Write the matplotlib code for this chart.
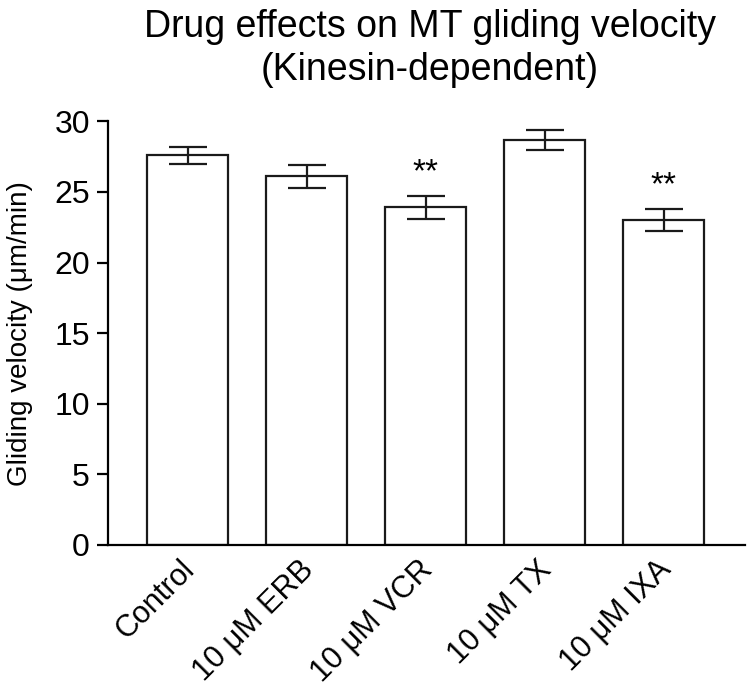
import matplotlib
matplotlib.use('Agg')
import matplotlib.pyplot as plt
from matplotlib.transforms import ScaledTranslation
import numpy as np

categories = ['Control', '10 \u03bcM ERB', '10 \u03bcM VCR', '10 \u03bcM TX', '10 \u03bcM IXA']
velocity = [27.6, 26.1, 23.9, 28.7, 23.0]
sem = [0.6, 0.8, 0.8, 0.7, 0.8]
stars = ['', '', '**', '', '**']

plt.rcParams['font.family'] = ['Liberation Sans', 'DejaVu Sans']

fig = plt.figure(figsize=(7.5, 6.93), dpi=100)
ax = fig.add_axes([0.144, 0.2136, 0.849, 0.6114])

x = np.arange(len(categories))
ax.bar(x, velocity, width=0.68, color='white', edgecolor='#1a1a1a', linewidth=1.6, zorder=2)
ax.errorbar(x, velocity, yerr=sem, fmt='none', ecolor='#1a1a1a', elinewidth=1.6,
            capsize=14, capthick=1.6, zorder=3)
for xi, v, s, st in zip(x, velocity, sem, stars):
    if st:
        ax.text(xi, v + s + 0.55, st, ha='center', va='bottom', fontsize=24)

ax.set_xlim(-0.67, 4.68)
ax.set_ylim(0, 30)
ax.set_yticks([0, 5, 10, 15, 20, 25, 30])
ax.tick_params(axis='y', labelsize=23, width=1.6, length=8, pad=5)
ax.tick_params(axis='x', length=0, labelsize=22, pad=7)
ax.set_xticks(x)
ax.set_xticklabels(categories, rotation=45, ha='right', rotation_mode='anchor')
for lab in ax.get_xticklabels():
    lab.set_transform(lab.get_transform() + ScaledTranslation(-0.08, 0, fig.dpi_scale_trans))
for sp in ['top', 'right']:
    ax.spines[sp].set_visible(False)
for sp in ['left', 'bottom']:
    ax.spines[sp].set_linewidth(1.6)
ax.set_ylabel('Gliding velocity (\u03bcm/min)', fontsize=20, labelpad=15)
ax.set_title('Drug effects on MT gliding velocity\n(Kinesin-dependent)', fontsize=27, pad=30,
             linespacing=1.25, x=0.505)

fig.savefig('out.png', dpi=100)
